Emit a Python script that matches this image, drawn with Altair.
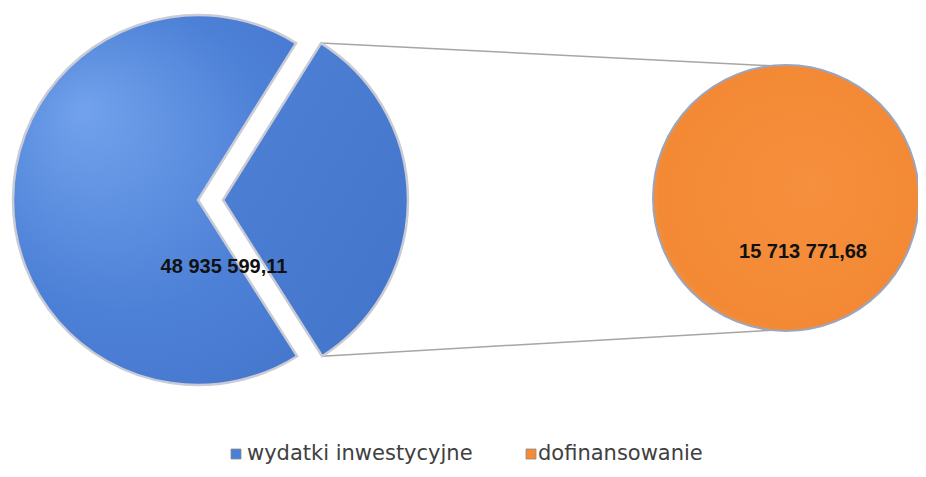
import math
import altair as alt
import pandas as pd

# ---- data ----
categories = ["wydatki inwestycyjne", "dofinansowanie"]
values = [48935599.11, 15713771.68]
value_labels = ["48 935 599,11", "15 713 771,68"]
colors = ["#4a7fd6", "#f68b36"]

# ---- layout (pixels, chart coordinates) ----
W, H = 910, 461
main_cx, main_cy, main_r = 190, 192, 185
explode = 25
split_start = math.radians(32)
right_cx, right_cy, right_r = 778, 190, 133

# left pie: remaining part + split-out part (size of the second pie)
split_frac = values[1] / values[0]
split_end = split_start + 2 * math.pi * split_frac
left = pd.DataFrame({
    "part": ["rest", "split"],
    "t0": [split_end, split_start],
    "t1": [split_start + 2 * math.pi, split_end],
    "cx": [main_cx, main_cx + explode],
    "cy": [main_cy, main_cy],
})
right = pd.DataFrame({"part": [categories[1]], "t0": [0.0], "t1": [2 * math.pi],
                      "cx": [right_cx], "cy": [right_cy]})

# connector lines from split slice tips to the right pie top/bottom
sx = main_cx + explode
conn = pd.DataFrame({
    "x": [sx + main_r * math.sin(split_start), sx + main_r * math.sin(split_end)],
    "y": [main_cy - main_r * math.cos(split_start), main_cy - main_r * math.cos(split_end)],
    "x2": [right_cx - 10, right_cx - 10],
    "y2": [right_cy - right_r + 1, right_cy + right_r - 1],
})

blue_grad = alt.Gradient(
    gradient="radial", x1=0.3, y1=0.25, r1=0.0, x2=0.5, y2=0.5, r2=0.75,
    stops=[alt.GradientStop(color="#72a2ec", offset=0),
           alt.GradientStop(color="#4d81d7", offset=0.55),
           alt.GradientStop(color="#4172c8", offset=1)])
blue_grad2 = alt.Gradient(
    gradient="linear", x1=0, y1=0, x2=1, y2=1,
    stops=[alt.GradientStop(color="#4f82d6", offset=0),
           alt.GradientStop(color="#4274c9", offset=1)])
orange_grad = alt.Gradient(
    gradient="radial", x1=0.6, y1=0.45, r1=0.0, x2=0.5, y2=0.5, r2=0.62,
    stops=[alt.GradientStop(color="#f68f3e", offset=0),
           alt.GradientStop(color="#f38934", offset=0.8),
           alt.GradientStop(color="#f8a35a", offset=1)])

xs = alt.X("cx:Q", scale=None, axis=None)
ys = alt.Y("cy:Q", scale=None, axis=None)

lines = alt.Chart(conn).mark_rule(color="#a6a6a6", strokeWidth=1.5).encode(
    x=alt.X("x:Q", scale=None, axis=None), y=alt.Y("y:Q", scale=None, axis=None),
    x2="x2:Q", y2="y2:Q")

rest = alt.Chart(left).transform_filter(alt.datum.part == "rest").mark_arc(
    radius=main_r, fill=blue_grad, stroke="#c9ccd4", strokeWidth=2.5
).encode(theta=alt.Theta("t0:Q", scale=None), theta2="t1:Q", x=xs, y=ys)

split = alt.Chart(left).transform_filter(alt.datum.part == "split").mark_arc(
    radius=main_r, fill=blue_grad2, stroke="#c9ccd4", strokeWidth=2.5
).encode(theta=alt.Theta("t0:Q", scale=None), theta2="t1:Q", x=xs, y=ys)

rpie = alt.Chart(right).mark_arc(
    radius=right_r, fill=orange_grad, stroke="#9aa6c0", strokeWidth=2
).encode(theta=alt.Theta("t0:Q", scale=None), theta2="t1:Q", x=xs, y=ys)

labels = pd.DataFrame({"label": value_labels, "x": [216, 795], "y": [259, 244]})
texts = alt.Chart(labels).mark_text(
    font="Liberation Sans", fontSize=20, fontWeight="bold", color="#111111"
).encode(x=alt.X("x:Q", scale=None, axis=None), y=alt.Y("y:Q", scale=None, axis=None),
         text="label:N")

leg = pd.DataFrame({"cat": categories, "sx": [228, 523], "tx": [239, 530],
                    "y": [446, 446], "col": colors})
leg_sym = alt.Chart(leg).mark_square(size=100, opacity=1, stroke="#8a8a8a", strokeWidth=0.8).encode(
    x=alt.X("sx:Q", scale=None, axis=None), y=alt.Y("y:Q", scale=None, axis=None),
    fill=alt.Fill("col:N", scale=None))
leg_txt = alt.Chart(leg).mark_text(
    align="left", baseline="middle", font="DejaVu Sans", fontSize=21, color="#404040"
).encode(x=alt.X("tx:Q", scale=None, axis=None), y=alt.Y("y:Q", scale=None, axis=None),
         text="cat:N")

chart = alt.layer(lines, rest, split, rpie, texts, leg_sym, leg_txt).properties(
    width=W, height=H, autosize=alt.AutoSizeParams(type="none"), padding=0
).configure_view(stroke=None)

chart.save("out.html", embed_options={"renderer": "svg", "actions": False})
